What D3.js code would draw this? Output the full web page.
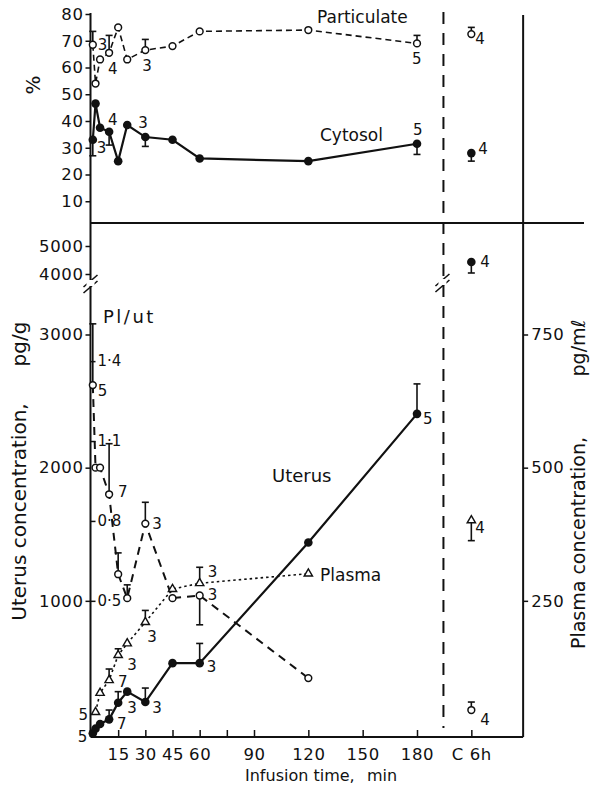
<!DOCTYPE html>
<html><head><meta charset="utf-8">
<script src="https://cdn.jsdelivr.net/npm/d3@7"></script>
<style>
body{margin:0;background:#fff}
svg text{font-family:"DejaVu Sans",sans-serif;fill:#111}
</style>
</head><body>
<svg id="c" width="591" height="789"></svg>
<script>
// ---------- DATA ----------
const topTimes    = [1, 2.5, 5, 10, 15, 20, 30, 45, 60, 120, 180];
const cytosol     = [33, 46.5, 37.5, 36, 25, 38.5, 34, 33, 26, 25, 31.5];
const particulate = [68.5, 54, 63, 65.5, 75, 63, 66.5, 68, 73.5, 74, 69];
const cytosolC6h = 28, particulateC6h = 72.5;
const cytosolErr     = [[1, 27], [10, 31], [30, 30.5], [180, 27.5], ["C6h", 25]];
const particulateErr = [[1, 73.5], [10, 72], [30, 70.5], [180, 72], ["C6h", 75]];
const cytosolN     = [[1, "3"], [10, "4"], [30, "3"], [180, "5"], ["C6h", "4"]];
const particulateN = [[1, "3"], [10, "4"], [30, "3"], [180, "5"], ["C6h", "4"]];

const uterusTimes = [1, 2.5, 5, 10, 15, 20, 30, 45, 60, 120, 180];
const uterus      = [5, 40, 75, 110, 235, 318, 240, 532, 532, 1438, 2404];
const uterusC6h = 4430;
const uterusErr = [[10, 180], [15, 318], [30, 345], [60, 680], [180, 2629], ["C6h", 4036]];
const uterusN   = [[1, "5"], [10, "7"], [15, "3"], [30, "3"], [60, "3"], [180, "5"], ["C6h", "4"]];

const plasmaTimes = [2.5, 5, 10, 15, 20, 30, 45, 60, 120];
const plasma      = [41, 77, 101, 148, 170, 210, 272, 283, 301];
const plasmaC6h = 401;
const plasmaErr = [[10, 122], [15, 160], [30, 232], [60, 313], ["C6h", 363]];
const plasmaN   = [[2.5, "5"], [10, "7"], [15, "3"], [30, "3"], [60, "3"], ["C6h", "4"]];

const ratioTimes = [1, 2.5, 5, 10, 15, 20, 30, 45, 60, 120];
const ratio      = [1.31, 1.0, 1.0, 0.9, 0.6, 0.51, 0.79, 0.51, 0.52, 0.21];
const ratioC6h = 0.09;
const ratioErr = [[1, 1.54], [10, 1.09], [15, 0.68], [20, 0.56], [30, 0.87], [60, 0.41], ["C6h", 0.12]];
const ratioN   = [[1, "5"], [10, "7"], [30, "3"], [60, "3"], ["C6h", "4"]];

const pctTicks = [10, 20, 30, 40, 50, 60, 70, 80];
const uterusTicks = [1000, 2000, 3000];
const uterusTopTicks = [4000, 5000];
const ratioTicks = [0.5, 0.8, 1.1, 1.4];
const plasmaTicks = [250, 500, 750];
const timeTicks = [15, 30, 45, 60, 75, 90, 120, 150, 180, 210];
const timeLabels = {15:"15",30:"30",45:"45",60:"60",75:"",90:"90",120:"120",150:"150",180:"180",210:"C 6h"};

// ---------- SCALES ----------
const svg = d3.select("#c");
const x = d3.scaleLinear().domain([0, 180]).range([91, 417]);
const C6H = 210, BREAK_T = 194.6, RIGHT_T = 238.6;
const tx = t => t === "C6h" ? x(C6H) : x(t);
const yPct  = d3.scaleLinear().domain([0, 80]).range([228, 14]);
const yU    = d3.scaleLinear().domain([0, 3000]).range([734, 334.5]);
const yUtop = d3.scaleLinear().domain([4000, 5000]).range([274, 246]);
const yP    = d3.scaleLinear().domain([0, 750]).range([734, 334.5]);
const yR    = d3.scaleLinear().domain([0, 1.5]).range([734, 334.5]);
const AX = 90.5, AXB = 737;

// ---------- FRAME ----------
const frame = svg.append("g").attr("stroke", "#111").attr("fill", "none");
frame.append("line").attr("x1", AX).attr("x2", AX).attr("y1", 13).attr("y2", AXB).attr("stroke-width", 2);
frame.append("line").attr("x1", x(RIGHT_T)).attr("x2", x(RIGHT_T)).attr("y1", 15).attr("y2", AXB).attr("stroke-width", 2);
frame.append("line").attr("x1", AX).attr("x2", x(RIGHT_T)).attr("y1", AXB).attr("y2", AXB).attr("stroke-width", 2);
frame.append("line").attr("x1", AX).attr("x2", 584).attr("y1", 223).attr("y2", 223).attr("stroke-width", 1.8);
frame.append("line").attr("x1", x(BREAK_T)).attr("x2", x(BREAK_T)).attr("y1", 12).attr("y2", 728)
  .attr("stroke-width", 2).attr("stroke-dasharray", "12,9");
// break marks
[[AX, 284], [x(BREAK_T) - 1, 283]].forEach(([bx, by]) => {
  svg.append("rect").attr("x", bx - 4).attr("y", by - 4).attr("width", 8).attr("height", 6).attr("fill", "#fff");
  [-3, 3].forEach(o => frame.append("line").attr("x1", bx - 7).attr("y1", by + o + 6)
    .attr("x2", bx + 7).attr("y2", by + o - 6).attr("stroke-width", 1.6));
});

// ---------- AXES ----------
function styleAxis(g) {
  g.select(".domain").remove();
  g.selectAll(".tick line").attr("stroke", "#111").attr("stroke-width", 1.5);
  g.selectAll(".tick text").style("font-size", "16.5px").attr("letter-spacing", "0.6px").attr("fill", "#111");
}
const fmtInt = d3.format("d");
svg.append("g").attr("transform", `translate(${AX},0)`)
  .call(d3.axisLeft(yPct).tickValues(pctTicks).tickSize(5).tickPadding(2)).call(styleAxis);
svg.append("g").attr("transform", `translate(${AX},0)`)
  .call(d3.axisLeft(yU).tickValues(uterusTicks).tickSize(5).tickPadding(2).tickFormat(fmtInt)).call(styleAxis);
svg.append("g").attr("transform", `translate(${AX},0)`)
  .call(d3.axisLeft(yUtop).tickValues(uterusTopTicks).tickSize(5).tickPadding(2).tickFormat(fmtInt)).call(styleAxis);
const ra = svg.append("g").attr("transform", `translate(${AX},0)`)
  .call(d3.axisRight(yR).tickValues(ratioTicks).tickSize(5).tickPadding(2)
    .tickFormat(d => d3.format(".1f")(d).replace(".", "·"))).call(styleAxis);
ra.selectAll(".tick text").style("font-size", "15px").attr("letter-spacing", "0");
svg.append("g").attr("transform", `translate(${x(RIGHT_T)},0)`)
  .call(d3.axisRight(yP).tickValues(plasmaTicks).tickSize(5).tickPadding(3).tickFormat(fmtInt)).call(styleAxis);
svg.append("g").attr("transform", `translate(0,${AXB})`)
  .call(d3.axisBottom(x).tickValues(timeTicks).tickSize(-7).tickPadding(11)
    .tickFormat(d => timeLabels[d])).call(styleAxis);

// ---------- LINES ----------
const plot = svg.append("g");
const ln = (xs, ys, yScale) => d3.line().x((d, i) => x(xs[i])).y(d => yScale(d))(ys);
plot.append("path").attr("d", ln(topTimes, particulate, yPct)).attr("fill", "none")
  .attr("stroke", "#111").attr("stroke-width", 1.6).attr("stroke-dasharray", "6,4");
plot.append("path").attr("d", ln(topTimes, cytosol, yPct)).attr("fill", "none")
  .attr("stroke", "#111").attr("stroke-width", 2.2);
plot.append("path").attr("d", ln(ratioTimes, ratio, yR)).attr("fill", "none")
  .attr("stroke", "#111").attr("stroke-width", 2).attr("stroke-dasharray", "8,6");
plot.append("path").attr("d", ln(plasmaTimes, plasma, yP)).attr("fill", "none")
  .attr("stroke", "#111").attr("stroke-width", 1.6).attr("stroke-dasharray", "2.5,3");
plot.append("path").attr("d", ln(uterusTimes, uterus, yU)).attr("fill", "none")
  .attr("stroke", "#111").attr("stroke-width", 2.2);

// ---------- ERROR BARS ----------
function errBars(list, times, vals, c6hVal, yScale, yScaleC6h) {
  list.forEach(([t, v]) => {
    const ys = t === "C6h" ? (yScaleC6h || yScale) : yScale;
    const base = t === "C6h" ? c6hVal : vals[times.indexOf(t)];
    const px = tx(t);
    plot.append("line").attr("x1", px).attr("x2", px).attr("y1", ys(base)).attr("y2", ys(v))
      .attr("stroke", "#111").attr("stroke-width", 1.6);
    plot.append("line").attr("x1", px - 3.5).attr("x2", px + 3.5).attr("y1", ys(v)).attr("y2", ys(v))
      .attr("stroke", "#111").attr("stroke-width", 1.6);
  });
}
errBars(cytosolErr, topTimes, cytosol, cytosolC6h, yPct);
errBars(particulateErr, topTimes, particulate, particulateC6h, yPct);
errBars(uterusErr, uterusTimes, uterus, uterusC6h, yU, yUtop);
errBars(plasmaErr, plasmaTimes, plasma, plasmaC6h, yP);
errBars(ratioErr, ratioTimes, ratio, ratioC6h, yR);

// ---------- MARKERS ----------
function filled(times, vals, ys) {
  plot.selectAll(null).data(vals).join("circle").attr("cx", (d, i) => tx(times[i])).attr("cy", d => ys(d))
    .attr("r", 4.3).attr("fill", "#111");
}
function openC(times, vals, ys) {
  plot.selectAll(null).data(vals).join("circle").attr("cx", (d, i) => tx(times[i])).attr("cy", d => ys(d))
    .attr("r", 3.4).attr("fill", "#fff").attr("stroke", "#111").attr("stroke-width", 1.5);
}
function tri(times, vals, ys) {
  const sym = d3.symbol().type(d3.symbolTriangle).size(30);
  plot.selectAll(null).data(vals).join("path").attr("d", sym)
    .attr("transform", (d, i) => `translate(${tx(times[i])},${ys(d)})`)
    .attr("fill", "#fff").attr("stroke", "#111").attr("stroke-width", 1.4);
}
filled(topTimes, cytosol, yPct); filled(["C6h"], [cytosolC6h], yPct);
openC(topTimes, particulate, yPct); openC(["C6h"], [particulateC6h], yPct);
openC(ratioTimes, ratio, yR); openC(["C6h"], [ratioC6h], yR);
tri(plasmaTimes, plasma, yP); tri(["C6h"], [plasmaC6h], yP);
filled(uterusTimes, uterus, yU); filled(["C6h"], [uterusC6h], yUtop);

// ---------- n LABELS ----------
const offs = {
  part: {1:[5,5], 10:[-1,21], 30:[-3,21], 180:[-5,21], C6h:[4,10]},
  cyt:  {1:[4,13], 10:[-1,-7], 30:[-7,-9], 180:[-4,-9], C6h:[7,1]},
  ratio:{1:[5,11], 10:[9,3], 30:[7,5], 60:[8,4], C6h:[9,15]},
  plas: {2.5:[-17,8], 10:[9,7], 15:[9,15], 30:[2,20], 60:[8,-6], C6h:[4,13]},
  ut:   {1:[-15,9], 10:[8,10], 15:[9,10], 30:[7,11], 60:[7,9], 180:[6,10], C6h:[9,5]}
};
function nLab(key, list, times, vals, c6hVal, ys, ysC) {
  list.forEach(([t, n]) => {
    const yy = t === "C6h" ? (ysC || ys)(c6hVal) : ys(vals[times.indexOf(t)]);
    const o = offs[key][t];
    svg.append("text").attr("x", tx(t) + o[0]).attr("y", yy + o[1]).style("font-size", "15px").text(n);
  });
}
nLab("part", particulateN, topTimes, particulate, particulateC6h, yPct);
nLab("cyt", cytosolN, topTimes, cytosol, cytosolC6h, yPct);
nLab("ratio", ratioN, ratioTimes, ratio, ratioC6h, yR);
nLab("plas", plasmaN, plasmaTimes, plasma, plasmaC6h, yP);
nLab("ut", uterusN, uterusTimes, uterus, uterusC6h, yU, yUtop);

// ---------- TEXT ----------
const T = (txt, xx, yy, size, extra) => {
  const t = svg.append("text").attr("x", xx).attr("y", yy).style("font-size", size + "px").text(txt);
  if (extra) extra(t);
  return t;
};
T("Particulate", 317, 23, 17);
T("Cytosol", 320, 141, 17);
T("Uterus", 272, 482, 18);
T("Plasma", 320, 581, 17);
T("Pl/ut", 103, 323, 18, t => t.attr("letter-spacing", "2.5px"));
T("%", 0, 0, 20, t => t.attr("text-anchor", "middle").attr("transform", "translate(40,85) rotate(-90)"));
T("Uterus concentration,", 0, 0, 20, t => t.attr("text-anchor", "middle").attr("transform", "translate(26,512) rotate(-90)"));
T("pg/g", 0, 0, 20, t => t.attr("text-anchor", "middle").attr("transform", "translate(26,344) rotate(-90)"));
T("Plasma concentration,", 0, 0, 19, t => t.attr("text-anchor", "middle").attr("transform", "translate(585,543) rotate(-90)"));
T("pg/mℓ", 0, 0, 19, t => t.attr("text-anchor", "middle").attr("transform", "translate(585,348) rotate(-90)"));
T("Infusion time,", 245, 781, 16);
T("min", 367, 781, 16);
</script>
</body></html>
